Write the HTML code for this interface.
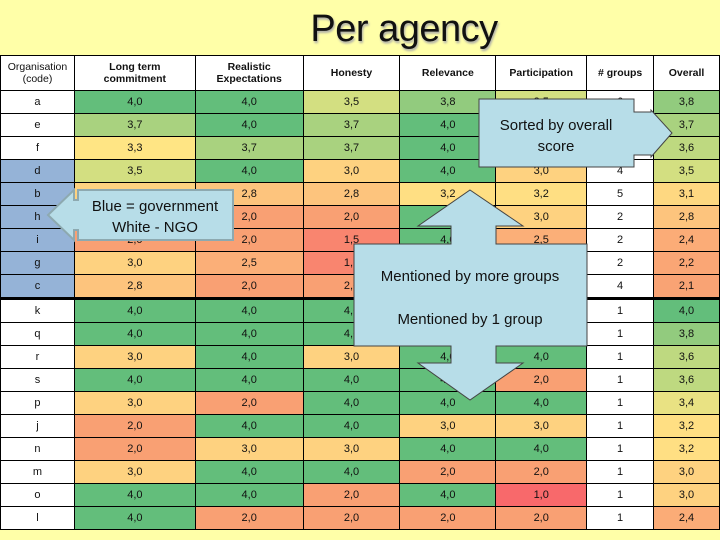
<!DOCTYPE html>
<html><head><meta charset="utf-8">
<style>
html,body{margin:0;padding:0}
body{width:720px;height:540px;background:#FFFFA8;position:relative;overflow:hidden;font-family:"Liberation Sans",sans-serif}
#title{position:absolute;left:0;top:8px;width:808px;text-align:center;font-size:38px;color:#111;text-shadow:1px 2px 2px #aaa;letter-spacing:-0.5px}
table{position:absolute;left:0;top:55px;border-collapse:collapse;table-layout:fixed}
td,th{border:1px solid #000;text-align:center;font-size:11px;padding:0;color:#111}
th{height:34px;background:#fff;font-weight:bold;font-size:10.5px;line-height:12px}
th.org{font-weight:normal}
td{height:22px}
tr.sep td{border-bottom:3px solid #000}
svg{position:absolute;left:0;top:0}
</style></head><body>
<div id="title">Per agency</div>
<table id="tbl">
<colgroup><col style="width:74px"><col style="width:121px"><col style="width:108px"><col style="width:97px"><col style="width:96px"><col style="width:91px"><col style="width:67px"><col style="width:66px"></colgroup>
<thead><tr>
<th class="org">Organisation<br>(code)</th>
<th>Long term<br>commitment</th>
<th>Realistic<br>Expectations</th>
<th>Honesty</th>
<th>Relevance</th>
<th>Participation</th>
<th># groups</th>
<th>Overall</th>
</tr></thead><tbody id="tb"></tbody></table>

<svg width="720" height="540">
<g>
<polygon points="233,190 78,190 78,200 74,200 74,190 48,215 74,240 74,230 78,230 78,240 233,240" fill="#B7DDE8" stroke="#8DA9B0" stroke-width="2"/>
<text x="155" y="211" text-anchor="middle" font-size="15" fill="#111" font-family="Liberation Sans,sans-serif">Blue = government</text>
<text x="155" y="232" text-anchor="middle" font-size="15" fill="#111" font-family="Liberation Sans,sans-serif">White - NGO</text>
</g>
<g>
<polygon points="479,99 634,99 634,112 651,112 651,110 672,133 651,157 651,155 634,155 634,167 479,167" fill="#B7DDE8" stroke="#444" stroke-width="1"/>
<text x="556" y="130" text-anchor="middle" font-size="15" fill="#111" font-family="Liberation Sans,sans-serif">Sorted by overall</text>
<text x="556" y="151" text-anchor="middle" font-size="15" fill="#111" font-family="Liberation Sans,sans-serif">score</text>
</g>
<g>
<polygon points="470,190 523,226 496,226 496,244 587,244 587,346 496,346 496,363 523,363 470,400 418,363 451,363 451,346 354,346 354,244 451,244 451,226 418,226" fill="#B7DDE8" stroke="#444" stroke-width="1"/>
<text x="470" y="281" text-anchor="middle" font-size="15" fill="#111" font-family="Liberation Sans,sans-serif">Mentioned by more groups</text>
<text x="470" y="324" text-anchor="middle" font-size="15" fill="#111" font-family="Liberation Sans,sans-serif">Mentioned by 1 group</text>
</g>
</svg>

<script>
const orgs=["a","e","f","d","b","h","i","g","c","k","q","r","s","p","j","n","m","o","l"];
const government=[0,0,0,1,1,1,1,1,1,0,0,0,0,0,0,0,0,0,0];
const longTerm=[4.0,3.7,3.3,3.5,3.0,3.0,2.0,3.0,2.8,4.0,4.0,3.0,4.0,3.0,2.0,2.0,3.0,4.0,4.0];
const realistic=[4.0,4.0,3.7,4.0,2.8,2.0,2.0,2.5,2.0,4.0,4.0,4.0,4.0,2.0,4.0,3.0,4.0,4.0,2.0];
const honesty=[3.5,3.7,3.7,3.0,2.8,2.0,1.5,1.5,2.0,4.0,4.0,3.0,4.0,4.0,4.0,3.0,4.0,2.0,2.0];
const relevance=[3.8,4.0,4.0,4.0,3.2,4.0,4.0,3.0,2.5,4.0,4.0,4.0,4.0,4.0,3.0,4.0,2.0,4.0,2.0];
const participation=[3.5,3.3,3.0,3.0,3.2,3.0,2.5,3.0,2.0,4.0,3.0,4.0,2.0,4.0,3.0,4.0,2.0,1.0,2.0];
const groups=[6,3,3,4,5,2,2,2,4,1,1,1,1,1,1,1,1,1,1];
const overall=[3.8,3.7,3.6,3.5,3.1,2.8,2.4,2.2,2.1,4.0,3.8,3.6,3.6,3.4,3.2,3.2,3.0,3.0,2.4];
const stops=[[1,[248,105,107]],[2,[249,160,115]],[2.5,[251,175,120]],[3,[254,210,128]],[3.3,[255,229,132]],[3.5,[211,223,129]],[3.7,[169,210,127]],[4,[99,190,123]]];
function col(v){for(let i=1;i<stops.length;i++){if(v<=stops[i][0]){const a=stops[i-1],b=stops[i];const t=(v-a[0])/(b[0]-a[0]);const c=a[1].map((x,k)=>Math.round(x+(b[1][k]-x)*t));return `rgb(${c})`;}}return 'rgb(99,190,123)';}
const fmt=v=>v.toFixed(1).replace('.',',');
const tb=document.getElementById('tb');
const cols=[["long-term",longTerm],["realistic",realistic],["honesty",honesty],["relevance",relevance],["participation",participation]];
orgs.forEach((o,i)=>{
 const tr=document.createElement('tr');
 
 
 if(i===8)tr.className='sep';
 const td0=document.createElement('td');
 
 
 td0.textContent=o;td0.style.background=government[i]?'#95B3D7':'#fff';tr.appendChild(td0);
 cols.forEach(([n,arr])=>{const td=document.createElement('td');
  
  
  td.textContent=fmt(arr[i]);td.style.background=col(arr[i]);tr.appendChild(td);});
 const tg=document.createElement('td');
 
 
 tg.textContent=groups[i];tg.style.background='#fff';tr.appendChild(tg);
 const to=document.createElement('td');
 
 
 to.textContent=fmt(overall[i]);to.style.background=col(overall[i]);tr.appendChild(to);
 tb.appendChild(tr);
});
</script>
</body></html>
